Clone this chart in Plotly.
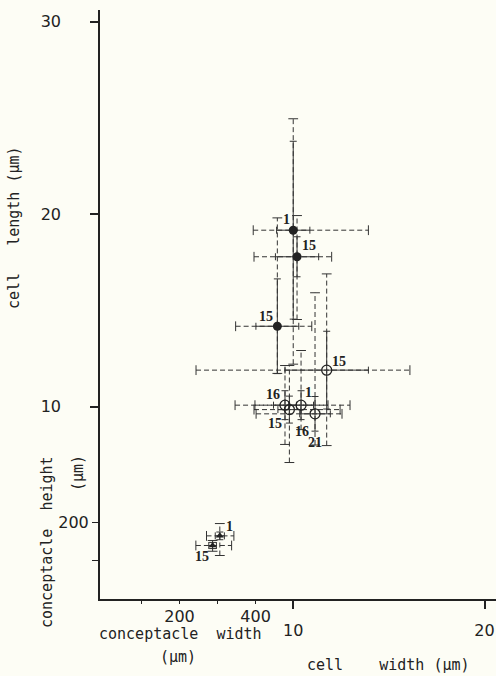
import plotly.graph_objects as go

NB = "\u00a0"

# ---------------- data ----------------
# cell dimensions (um): filled circles
fill_labels = ["1", "15", "15"]
fill_cell_width = [10.00, 10.20, 9.17]
fill_cell_width_sd = [0.87, 1.13, 1.12]
fill_cell_width_min = [7.91, 7.95, 6.99]
fill_cell_width_max = [13.93, 12.01, 10.97]
fill_cell_length = [19.16, 17.78, 14.17]
fill_cell_length_sd = [4.62, 1.04, 2.46]
fill_cell_length_min = [12.20, 14.52, 11.72]
fill_cell_length_max = [24.95, 19.92, 19.80]

# cell dimensions (um): open circles
open_labels = ["16", "15", "1", "21", "15"]
open_cell_width = [9.57, 9.80, 10.41, 11.14, 11.75]
open_cell_width_sd = [0.60, 0.60, 0.65, 0.80, 2.18]
open_cell_width_min = [6.96, 7.95, 8.00, 8.06, 4.92]
open_cell_width_max = [12.97, 12.45, 11.82, 12.55, 16.10]
open_cell_length = [10.07, 9.84, 10.07, 9.62, 11.89]
open_cell_length_sd = [0.75, 0.70, 0.75, 0.90, 2.02]
open_cell_length_min = [8.03, 7.09, 8.80, 8.00, 7.97]
open_cell_length_max = [12.13, 12.13, 12.91, 15.91, 16.89]
open_extra_label = "16"

# conceptacle dimensions (um): triangles
tri_labels = ["1", "15"]
tri_conc_width = [306, 287]
tri_conc_width_sd = [12, 10]
tri_conc_width_min = [271, 243]
tri_conc_width_max = [343, 337]
tri_conc_height = [164, 139]
tri_conc_height_sd = [10, 8]
tri_conc_height_min = [113, 124]
tri_conc_height_max = [196, 152]

# axes ticks
cell_width_ticks = [10, 20]
cell_length_ticks = [10, 20, 30]
conc_width_ticks = [100, 200, 300, 400]
conc_width_ticktext = ["", "200", "", "400"]
conc_height_ticks = [100, 200]
conc_height_ticktext = ["", "200"]

# ---------------- style ----------------
BG = "#fdfdf5"
INK = "#222222"
LINE = "#333333"
DASH = "5px,3px"
SANS = "DejaVu Sans"
MONO = "DejaVu Sans Mono"
SERIF = "Liberation Serif"

X_RANGE = [-0.1, 20.6]
Y_RANGE = [0, 30.6]
X2_RANGE = [(X_RANGE[0] - 0.08) * 50.3, (X_RANGE[1] - 0.08) * 50.3]
Y2_RANGE = [Y_RANGE[0] * 50, Y_RANGE[1] * 50]

fig = go.Figure()


def add_group(xs, ys, xsd, ysd, xmin, xmax, ymin, ymax, marker, xa, ya):
    hx, hy, vx, vy = [], [], [], []
    for x, y, a, b, c, d in zip(xs, ys, xmin, xmax, ymin, ymax):
        hx += [a, b, None]
        hy += [y, y, None]
        vx += [x, x, None]
        vy += [c, d, None]
    common = dict(xaxis=xa, yaxis=ya, showlegend=False, hoverinfo="skip")
    fig.add_trace(go.Scatter(x=hx, y=hy, mode="lines",
                             line=dict(color=LINE, width=1, dash=DASH), **common))
    fig.add_trace(go.Scatter(x=vx, y=vy, mode="lines",
                             line=dict(color=LINE, width=1, dash=DASH), **common))
    # range caps
    fig.add_trace(go.Scatter(x=list(xmin) + list(xmax), y=list(ys) + list(ys), mode="markers",
                             marker=dict(symbol="line-ns", size=7,
                                         line=dict(color=LINE, width=1)), **common))
    fig.add_trace(go.Scatter(x=list(xs) + list(xs), y=list(ymin) + list(ymax), mode="markers",
                             marker=dict(symbol="line-ew", size=7,
                                         line=dict(color=LINE, width=1)), **common))
    # means with SD bars
    fig.add_trace(go.Scatter(
        x=xs, y=ys, mode="markers", marker=marker,
        error_x=dict(type="data", array=xsd, color=LINE, thickness=1, width=3.5),
        error_y=dict(type="data", array=ysd, color=LINE, thickness=1, width=3.5),
        **common))


add_group(fill_cell_width, fill_cell_length, fill_cell_width_sd, fill_cell_length_sd,
          fill_cell_width_min, fill_cell_width_max, fill_cell_length_min, fill_cell_length_max,
          dict(symbol="circle", size=9, color=INK), "x", "y")
add_group(open_cell_width, open_cell_length, open_cell_width_sd, open_cell_length_sd,
          open_cell_width_min, open_cell_width_max, open_cell_length_min, open_cell_length_max,
          dict(symbol="circle-open", size=10, color=INK, line=dict(width=1.3, color=INK)), "x", "y")
add_group(tri_conc_width, tri_conc_height, tri_conc_width_sd, tri_conc_height_sd,
          tri_conc_width_min, tri_conc_width_max, tri_conc_height_min, tri_conc_height_max,
          dict(symbol="triangle-up", size=7, color=INK), "x2", "y2")

# point labels (offsets in px)
lab_font = dict(family=SERIF, size=14, color=INK, weight="bold")
annotations = []


def add_labels(labels, xs, ys, offs, xref, yref):
    for t, x, y, (dx, dy) in zip(labels, xs, ys, offs):
        annotations.append(dict(text=t, x=x, y=y, xref=xref, yref=yref, showarrow=False,
                                xshift=dx, yshift=dy, font=lab_font))


add_labels(fill_labels, fill_cell_width, fill_cell_length,
           [(-7, 11), (12, 11), (-11, 10)], "x", "y")
add_labels(open_labels, open_cell_width, open_cell_length,
           [(-12, 11), (-14, -14), (7, 13), (0, -29), (12, 9)], "x", "y")
add_labels([open_extra_label], [open_cell_width[2]], [open_cell_length[2]],
           [(1, -26)], "x", "y")
add_labels(tri_labels, tri_conc_width, tri_conc_height,
           [(10, 9), (-11, -11)], "x2", "y2")

# axis titles (pixel layout converted to paper coords)
PL, PT, PW, PH = 100, 10, 396, 589


def px(xp):
    return (xp - PL) / PW


def py(yp):
    return (PT + PH - yp) / PH


title_font = dict(family=MONO, size=15, color=INK)
annotations += [
    dict(text="cell" + NB * 3 + "length" + NB + "(µm)", x=px(14), y=py(228), textangle=-90),
    dict(text="conceptacle" + NB * 2 + "height", x=px(47), y=py(542), textangle=-90),
    dict(text="(µm)", x=px(78), y=py(473), textangle=-90),
    dict(text="conceptacle" + NB * 2 + "width", x=px(180), y=py(634)),
    dict(text="(µm)", x=px(178), y=py(657)),
    dict(text="cell" + NB * 4 + "width" + NB + "(µm)", x=px(388), y=py(665)),
]
for a in annotations[-6:]:
    a.update(xref="paper", yref="paper", showarrow=False, font=title_font,
             xanchor="center", yanchor="middle")

tick_font = dict(family=SANS, size=16, color=INK)
axis_common = dict(showgrid=False, zeroline=False, ticks="outside", tickcolor=INK,
                   tickfont=tick_font, fixedrange=True)

fig.update_layout(
    width=496, height=676,
    margin=dict(l=PL, r=0, t=PT, b=676 - PT - PH),
    paper_bgcolor=BG, plot_bgcolor=BG,
    showlegend=False,
    annotations=annotations,
    xaxis=dict(range=X_RANGE, tickvals=cell_width_ticks, ticklen=8, tickwidth=1.5,
               showline=True, linecolor=INK, linewidth=1.5, ticklabelstandoff=8,
               **axis_common),
    xaxis2=dict(range=X2_RANGE, overlaying="x", anchor="y", side="bottom",
                tickvals=conc_width_ticks, ticktext=conc_width_ticktext, ticklen=4,
                tickwidth=1.2, showline=False, ticklabelstandoff=-1, **axis_common),
    yaxis=dict(range=Y_RANGE, tickvals=cell_length_ticks, ticklen=8, tickwidth=1.5,
               showline=True, linecolor=INK, linewidth=1.5, ticklabelstandoff=26,
               **axis_common),
    yaxis2=dict(range=Y2_RANGE, overlaying="y", anchor="x", side="left",
                tickvals=conc_height_ticks, ticktext=conc_height_ticktext, ticklen=7,
                tickwidth=1.2, showline=False, ticklabelstandoff=0, **axis_common),
)

fig.write_html("out.html", config={"displayModeBar": False},
               post_script="document.body.style.margin='0';document.body.style.overflow='hidden';")
